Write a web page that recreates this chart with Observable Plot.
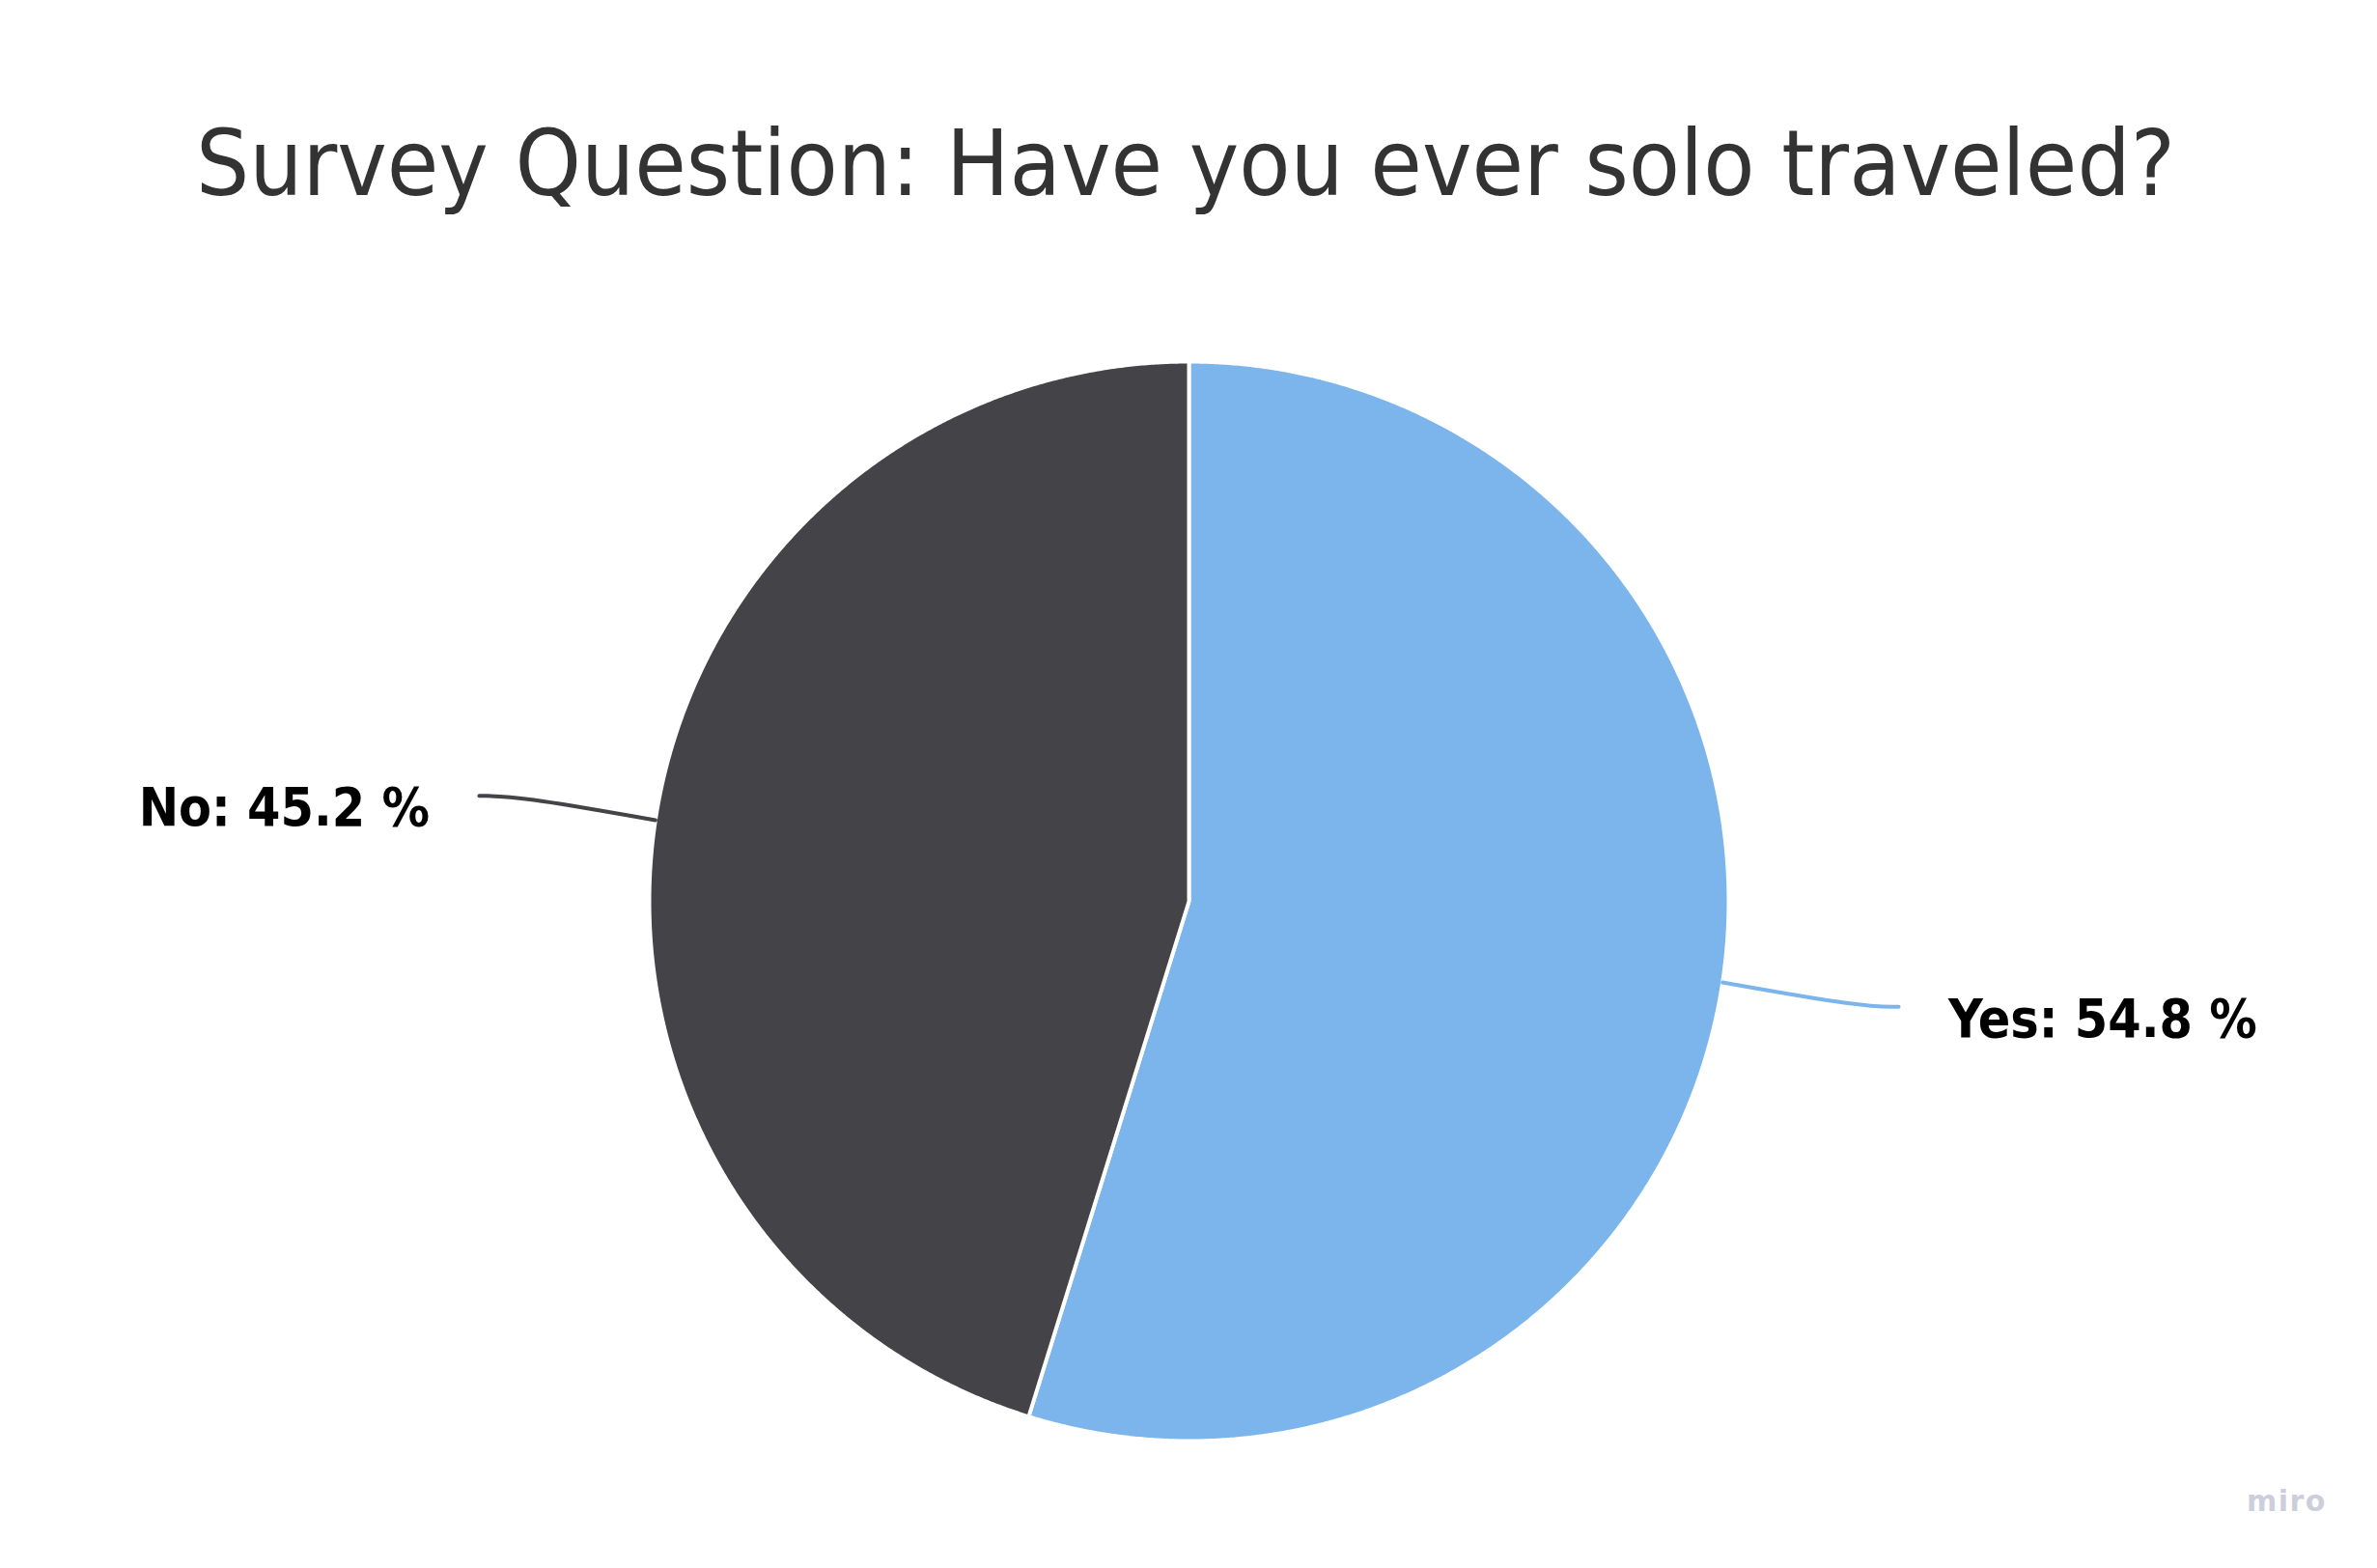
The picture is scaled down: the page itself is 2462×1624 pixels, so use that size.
<!DOCTYPE html>
<html>
<head>
<meta charset="utf-8">
<script src="https://cdn.jsdelivr.net/npm/d3@7"></script>
<script src="https://cdn.jsdelivr.net/npm/@observablehq/plot@0.6"></script>
<style>
  html, body { margin: 0; padding: 0; background: #ffffff; }
  #page { position: relative; width: 2462px; height: 1624px; overflow: hidden; background: #fff; }
  #title {
    position: absolute; left: -3px; top: 122px; width: 2462px; text-align: center;
    font-family: "DejaVu Sans Condensed", "DejaVu Sans", sans-serif;
    font-size: 95px; line-height: 95px; color: #333333; white-space: nowrap;
  }
  #title span { display: inline-block; transform-origin: 50% 50%; }
  #chart { position: absolute; left: 0; top: 300px; }
  #credit {
    position: absolute; left: 2327px; top: 1540px;
    font-family: "DejaVu Sans", sans-serif; font-weight: bold;
    font-size: 30px; line-height: 30px; letter-spacing: 1.5px; color: #cdcedc;
  }
</style>
</head>
<body>
<div id="page">
  <div id="title"><span id="titleText"></span></div>
  <div id="chart"></div>
  <div id="credit">miro</div>
</div>
<script>
// ---- data ----
const titleText = "Survey Question: Have you ever solo traveled?";
const categories = ["Yes", "No"];
const shares = [54.8, 45.2];
const colors = ["#7cb5ec", "#434348"];

// ---- layout ----
const W = 2462, H = 1324;
const cx = 1231, cy = 633, R = 559;

document.getElementById("titleText").textContent = titleText;

const rows = categories.map((c, i) => ({category: c, share: shares[i]}));
const arcs = d3.pie().sort(null).value(d => d.share)(rows);

// slice outlines sampled along each arc (angles from d3.pie, clockwise from top)
const slicePts = [];
for (const a of arcs) {
  const cat = a.data.category;
  slicePts.push({category: cat, x: 0, y: 0});
  const n = Math.ceil((a.endAngle - a.startAngle) / (Math.PI / 720));
  for (let k = 0; k <= n; k++) {
    const t = a.startAngle + (a.endAngle - a.startAngle) * k / n;
    slicePts.push({category: cat, x: Math.sin(t), y: -Math.cos(t)});
  }
  slicePts.push({category: cat, x: 0, y: 0});
}

// connectors + labels
const connPts = [];
const labels = [];
for (const a of arcs) {
  const cat = a.data.category;
  const m = (a.startAngle + a.endAngle) / 2;
  const sx = Math.sin(m), sy = -Math.cos(m);
  const side = sx >= 0 ? 1 : -1;
  const ex = side * 1.315, ey = sy * 1.3;
  connPts.push({category: cat, x: sx, y: sy});
  connPts.push({category: cat, x: ex - side * 0.07, y: ey});
  connPts.push({category: cat, x: ex, y: ey});
  labels.push({category: cat, side, x: ex + side * 0.092, y: ey,
               text: `${cat}: ${a.data.share.toFixed(1)} %`});
}

const labelStyle = {
  fontFamily: '"DejaVu Sans Condensed", "DejaVu Sans", sans-serif',
  fontWeight: "bold", fontSize: 55, fill: "#000000",
  lineAnchor: "bottom", dy: 31
};

const chart = Plot.plot({
  width: W, height: H,
  margin: 0,
  x: {domain: [-cx / R, (W - cx) / R], range: [0, W], axis: null},
  y: {domain: [-cy / R, (H - cy) / R], range: [0, H], axis: null},
  color: {domain: categories, range: colors},
  style: {background: "#ffffff", overflow: "visible"},
  marks: [
    Plot.line(slicePts, {x: "x", y: "y", z: "category", fill: "category",
      stroke: "#ffffff", strokeWidth: 4, strokeLinejoin: "round", curve: "linear"}),
    Plot.line(connPts, {x: "x", y: "y", z: "category", stroke: "category",
      strokeWidth: 4, curve: "basis"}),
    Plot.text(labels.filter(d => d.side > 0), {x: "x", y: "y", text: "text",
      textAnchor: "start", ...labelStyle}),
    Plot.text(labels.filter(d => d.side < 0), {x: "x", y: "y", text: "text",
      textAnchor: "end", ...labelStyle})
  ]
});
document.getElementById("chart").appendChild(chart);

// fit title width to the reference's horizontal extent
function fitTitle() {
  const s = document.getElementById("titleText");
  s.style.transform = "none";
  const w = s.getBoundingClientRect().width;
  const k = 2050 / w;
  s.style.transform = `scaleX(${k})`;
}
fitTitle();
if (document.fonts && document.fonts.ready) document.fonts.ready.then(fitTitle);
</script>
</body>
</html>
